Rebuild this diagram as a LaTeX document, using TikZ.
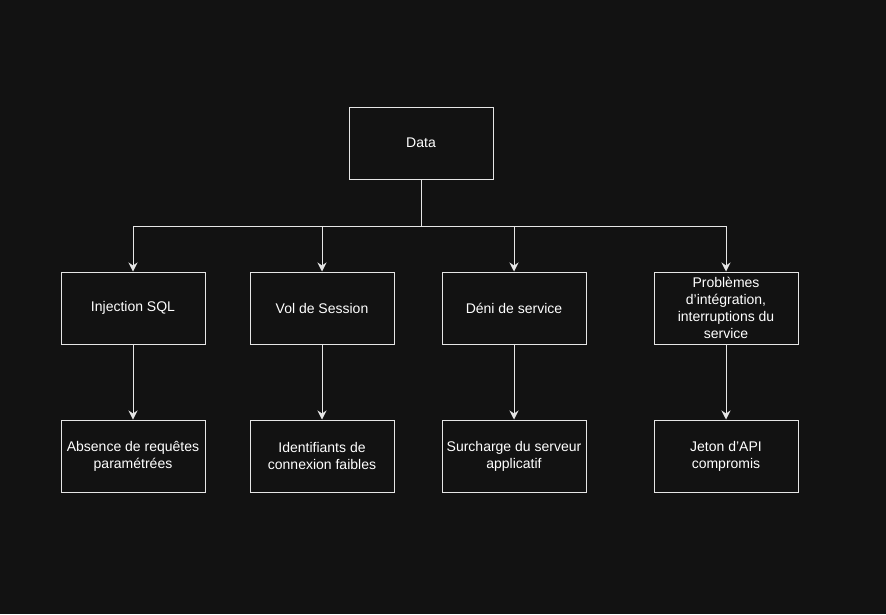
\documentclass[tikz,border=0pt]{standalone}
\usepackage{fontspec}
\setmainfont{Liberation Sans}
\usetikzlibrary{arrows.meta}
\definecolor{bg}{HTML}{121212}
\definecolor{ln}{HTML}{E6E6E6}
\begin{document}
\begin{tikzpicture}[x=1pt,y=-1pt,
  box/.style={draw=ln, fill=bg, line width=1pt, minimum width=144pt, minimum height=72pt,
    inner sep=2pt, align=center, text=white, font=\fontsize{14}{17}\selectfont},
  conn/.style={draw=ln, line width=1pt},
  arr/.style={conn, -{Stealth[length=9pt,width=9pt,inset=3pt]}}]
\fill[bg] (0,0) rectangle (886,614);
\useasboundingbox (0,0) rectangle (886,614);
\node[box] (data) at (421,143) {Data};
\node[box] (sql) at (133,308) {Injection SQL};
\node[box] (vol) at (322,308) {Vol de Session};
\node[box] (deni) at (514,308) {Déni de service};
\node[box] (prob) at (726,308) {Problèmes\\d’intégration,\\interruptions du\\service};
\node[box] (abs) at (133,456) {Absence de requêtes\\paramétrées};
\node[box] (ident) at (322,456) {Identifiants de\\connexion faibles};
\node[box] (surch) at (514,456) {Surcharge du serveur\\applicatif};
\node[box] (jeton) at (726,456) {Jeton d’API\\compromis};
\coordinate (j) at (421,226);
\draw[conn] (data.south) -- (j);
\foreach \n in {sql,vol,deni,prob}{
  \draw[arr] (j) -| (\n.north);
}
\draw[arr] (sql) -- (abs);
\draw[arr] (vol) -- (ident);
\draw[arr] (deni) -- (surch);
\draw[arr] (prob) -- (jeton);
\end{tikzpicture}
\end{document}
